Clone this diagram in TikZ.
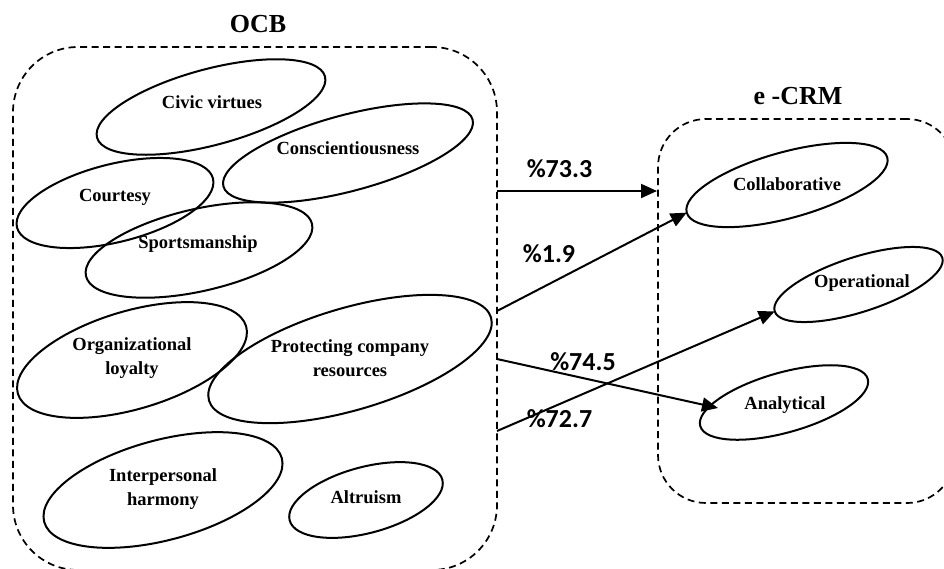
\documentclass[tikz,border=0pt]{standalone}
\usepackage{fontspec}
\setmainfont{Liberation Serif}
\newfontfamily\pctfont{Carlito}
\usetikzlibrary{shapes.geometric,arrows.meta}
\begin{document}
\begin{tikzpicture}[x=1pt,y=-1pt,
  oval/.style={ellipse, draw, line width=2pt, inner sep=0pt, outer sep=0pt},
  lab/.style={font=\bfseries\fontsize{18.5}{24}\selectfont, align=center, inner sep=0pt},
  grp/.style={draw, dash pattern=on 7pt off 4.5pt, line width=1.7pt, rounded corners=65pt, inner sep=0pt, outer sep=0pt},
  ttl/.style={font=\bfseries\fontsize{26}{30}\selectfont, inner sep=0pt},
  pct/.style={font=\pctfont\bfseries\fontsize{26}{30}\selectfont, inner sep=0pt},
  conn/.style={line width=2pt, -{Triangle[length=16pt,width=14pt]}}]
\useasboundingbox (0,0) rectangle (944,568);
\clip (0,0) rectangle (944,568);
% containers
\node[grp, minimum width=484pt, minimum height=523pt] (ocb) at (255,308.5) {};
\node[grp, rounded corners=48pt, minimum width=297pt, minimum height=384pt] (ecrm) at (806.5,311) {};
\node[ttl] (ocbt) at (258,24) {OCB};
\node[ttl] (ecrmt) at (798,96) {e -CRM};
% OCB ellipses
\node[oval, minimum width=236pt, minimum height=76pt, rotate=15] (civ) at (211,107) {};
\node[oval, minimum width=202pt, minimum height=78pt, rotate=14] (cou) at (115,203) {};
\node[oval, minimum width=258pt, minimum height=76pt, rotate=15] (con) at (348,153) {};
\node[oval, minimum width=232pt, minimum height=82pt, rotate=13] (spo) at (199,250) {};
\node[oval, minimum width=238pt, minimum height=98pt, rotate=16.5] (org) at (132,360) {};
\node[oval, minimum width=294pt, minimum height=102pt, rotate=16.4] (pro) at (350,359) {};
\node[oval, minimum width=246pt, minimum height=100pt, rotate=15] (int) at (163,490) {};
\node[oval, minimum width=158pt, minimum height=66pt, rotate=15] (alt) at (366,500) {};
% e-CRM ellipses
\node[oval, minimum width=208pt, minimum height=66pt, rotate=15.4] (col) at (787,185) {};
\node[oval, minimum width=176pt, minimum height=55pt, rotate=17.8] (ope) at (858.5,284.5) {};
\node[oval, minimum width=174pt, minimum height=60pt, rotate=15.7] (ana) at (784,402.5) {};
% labels
\node[lab] (civl) at (212,102) {Civic virtues};
\node[lab] (conl) at (348,148) {Conscientiousness};
\node[lab] (coul) at (115,197) {Courtesy};
\node[lab] (spol) at (198,244) {Sportsmanship};
\node[lab] (orgl) at (132,358) {Organizational\\loyalty};
\node[lab] (prol) at (350,358) {Protecting company\\resources};
\node[lab] (intl) at (163,489) {Interpersonal\\harmony};
\node[lab] (altl) at (366,497) {Altruism};
\node[lab] (coll) at (787,184) {Collaborative};
\node[lab] (opel) at (862,283) {Operational};
\node[lab] (anal) at (785,405) {Analytical};
% connector ends
\coordinate (s1) at (497,191);
\coordinate (t1) at (657,191);
\coordinate (s2) at (497,311);
\coordinate (s3) at (497,359);
\coordinate (t3) at (718,408);
\coordinate (s4) at (497,431);
\draw[conn] (s1) -- (t1);
\draw[conn] (s2) -- (col.west);
\draw[conn] (s3) -- (t3);
\draw[conn] (s4) -- (ope.west);
% percentages
\node[pct] (p1) at (559.5,168.5) {\%73.3};
\node[pct] (p2) at (549,253.5) {\%1.9};
\node[pct] (p3) at (583,362) {\%74.5};
\node[pct] (p4) at (559.5,419) {\%72.7};
\end{tikzpicture}
\end{document}
